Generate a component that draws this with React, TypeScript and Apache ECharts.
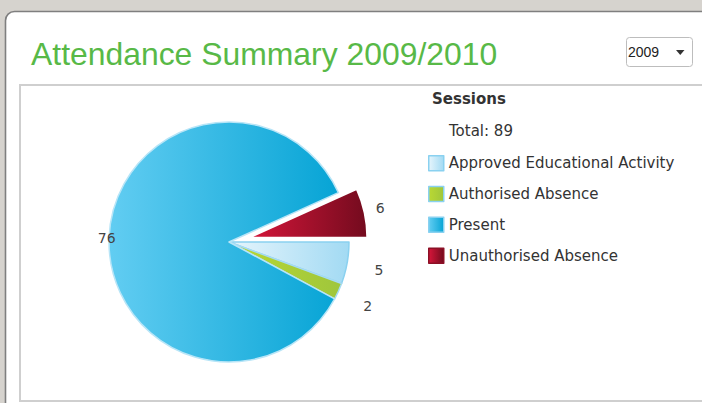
import React, { useEffect, useRef } from 'react';
import * as echarts from 'echarts';

const titleText = 'Attendance Summary 2009/2010';
const yearOptions = ['2009'];
const legendTitle = 'Sessions';
const categories = [
  'Approved Educational Activity',
  'Authorised Absence',
  'Present',
  'Unauthorised Absence',
];
const sessions = [5, 2, 76, 6];
const selectedCategory = 'Unauthorised Absence';

const FONT = 'DejaVu Sans, Verdana, sans-serif';

const grad = (a: string, b: string) =>
  new echarts.graphic.LinearGradient(0, 0, 1, 0, [
    { offset: 0, color: a },
    { offset: 1, color: b },
  ]);

const sliceStyles: Record<string, { from: string; to: string; border: string; legendBorder: string }> = {
  'Approved Educational Activity': { from: '#e6f5fc', to: '#a2daf3', border: '#8ad1f0', legendBorder: '#8ad1f0' },
  'Authorised Absence': { from: '#bad833', to: '#9fc63c', border: '#a6dbf2', legendBorder: '#8ad1f0' },
  Present: { from: '#62cdf2', to: '#06a4d5', border: '#b8e5f7', legendBorder: '#8ad1f0' },
  'Unauthorised Absence': { from: '#d6163a', to: '#730b1e', border: '#ffffff', legendBorder: '#8c1026' },
};

// label placement tweaks: [labelLine length, labelLine length2]
const labelNudge: Record<string, [number, number]> = {
  'Approved Educational Activity': [39, -11],
  'Authorised Absence': [36, -8],
  Present: [0, -6.5],
  'Unauthorised Absence': [24, -12.5],
};

export default function App() {
  const ref = useRef<HTMLDivElement>(null);
  useEffect(() => {
    document.body.style.margin = '0';
    const chart = echarts.init(ref.current!, null, { renderer: 'svg' });
    const total = sessions.reduce((s, v) => s + v, 0);
    chart.setOption({
      animation: false,
      backgroundColor: '#d6d3ce',
      title: {
        text: titleText,
        left: 31,
        top: 38,
        padding: 0,
        textStyle: {
          color: '#58b947',
          fontSize: 31.9,
          fontWeight: 'normal',
          fontFamily: 'Liberation Sans, Arial, sans-serif',
        },
      },
      legend: {
        orient: 'vertical',
        left: 428,
        top: 155,
        padding: 0,
        itemWidth: 15,
        itemHeight: 15,
        itemGap: 14.3,
        icon: 'rect',
        selectedMode: false,
        textStyle: { fontSize: 15, fontFamily: FONT, color: '#333' },
        data: categories.map((name) => ({
          name,
          itemStyle: { borderColor: sliceStyles[name].legendBorder, borderWidth: 1.5 },
        })),
      },
      graphic: [
        {
          type: 'rect',
          z: -10,
          shape: { x: 5.5, y: 11.5, width: 760, height: 460, r: [9, 0, 0, 0] },
          style: { fill: '#ffffff', stroke: '#7f7f7f', lineWidth: 1.6 },
        },
        {
          type: 'rect',
          z: -9,
          shape: { x: 20, y: 85, width: 720, height: 316 },
          style: { fill: 'none', stroke: '#cfcfcf', lineWidth: 2 },
        },
        {
          type: 'rect',
          shape: { x: 626.5, y: 37.5, width: 66, height: 29, r: 3 },
          style: { fill: '#ffffff', stroke: '#bdbdbd', lineWidth: 1 },
        },
        {
          type: 'text',
          x: 628,
          y: 52,
          style: {
            text: yearOptions[0],
            fill: '#222',
            fontSize: 14,
            fontFamily: 'Liberation Sans, Arial, sans-serif',
            verticalAlign: 'middle',
          },
        },
        {
          type: 'polygon',
          shape: { points: [[676, 50], [684.5, 50], [680.25, 55]] },
          style: { fill: '#333' },
        },
        {
          type: 'text',
          x: 432,
          y: 99,
          style: {
            text: legendTitle,
            fill: '#333',
            fontSize: 15,
            fontWeight: 'bold',
            fontFamily: FONT,
            verticalAlign: 'middle',
          },
        },
        {
          type: 'text',
          x: 449,
          y: 130.5,
          style: {
            text: 'Total: ' + total,
            fill: '#333',
            fontSize: 15,
            fontFamily: FONT,
            verticalAlign: 'middle',
          },
        },
      ],
      series: [
        {
          type: 'pie',
          center: [229, 242],
          radius: 120,
          startAngle: 0,
          clockwise: true,
          selectedMode: 'single',
          selectedOffset: 19,
          avoidLabelOverlap: false,
          emphasis: { disabled: true },
          label: {
            show: true,
            position: 'outside',
            formatter: '{c}',
            fontSize: 14,
            fontFamily: FONT,
            color: '#444',
            distanceToLabelLine: 0,
          },
          labelLine: { show: false },
          data: categories.map((name, i) => {
            const st = sliceStyles[name];
            const isSel = name === selectedCategory;
            const itemStyle = {
              color: grad(st.from, st.to),
              borderColor: st.border,
              borderWidth: isSel ? 2.5 : 1.5,
            };
            return {
              name,
              value: sessions[i],
              selected: isSel,
              itemStyle,
              select: { itemStyle },
              labelLine: { show: false, length: labelNudge[name][0], length2: labelNudge[name][1] },
            };
          }),
        },
      ],
    });
    return () => chart.dispose();
  }, []);
  return <div ref={ref} style={{ width: 702, height: 403 }} />;
}
